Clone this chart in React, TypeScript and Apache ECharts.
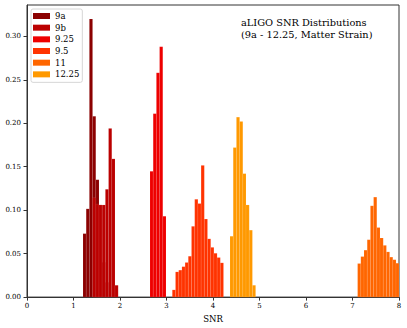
import React, { useEffect, useRef } from "react";
import * as echarts from "echarts";

const SERIES_NAMES = ["9a", "9b", "9.25", "9.5", "11", "12.25"];
const SERIES_COLORS = ["#8b0000", "#bb0000", "#ee0000", "#ff3300", "#ff6600", "#ff9900"];
const BIN_WIDTH = 0.0688;

const binStart9a = 1.204;
const values9a = [0.073, 0.1015, 0.32, 0.208, 0.135, 0.106, 0.04, 0.017];

const binStart9b = 1.4104;
const values9b = [0.1144, 0.107, 0.106, 0.106, 0.124, 0.194, 0.159, 0.0136];

const binStart925 = 2.645;
const values925 = [0.1447, 0.211, 0.258, 0.288, 0.093];

const binStart95 = 3.125;
const values95 = [0.0083, 0.029, 0.031, 0.035, 0.0398, 0.047, 0.0814, 0.1125, 0.1076, 0.1515, 0.0898, 0.067, 0.0572, 0.0504, 0.0455, 0.0394];

const binStart11 = 7.11;
const values11 = [0.0386, 0.0466, 0.054, 0.066, 0.105, 0.115, 0.08, 0.068, 0.0595, 0.052, 0.046, 0.043, 0.039];

const binStart1225 = 4.366;
const values1225 = [0.07, 0.172, 0.207, 0.202, 0.142, 0.106, 0.077, 0.0136];

const X_TICKS = [0, 1, 2, 3, 4, 5, 6, 7, 8];
const Y_TICKS = [0, 0.05, 0.1, 0.15, 0.2, 0.25, 0.3];

const TITLE = "aLIGO SNR Distributions\n(9a - 12.25, Matter Strain)";

const seriesBins: [number, number[]][] = [
  [binStart9a, values9a],
  [binStart9b, values9b],
  [binStart925, values925],
  [binStart95, values95],
  [binStart11, values11],
  [binStart1225, values1225],
];

const FONT = "DejaVu Serif";

export default function App() {
  const ref = useRef<HTMLDivElement>(null);
  useEffect(() => {
    if (!ref.current) return;
    const chart = echarts.init(ref.current, undefined, { renderer: "svg" });
    const series = seriesBins.map(([start, vals], si) => ({
      type: "custom",
      name: SERIES_NAMES[si],
      itemStyle: { color: SERIES_COLORS[si] },
      data: vals.map((v, i) => [start + i * BIN_WIDTH, start + (i + 1) * BIN_WIDTH, v]),
      encode: { x: [0, 1], y: 2 },
      renderItem: (params: any, api: any) => {
        const x0 = api.value(0);
        const x1 = api.value(1);
        const v = api.value(2);
        const p0 = api.coord([x0, v]);
        const p1 = api.coord([x1, 0]);
        const cs = params.coordSys;
        const right = Math.min(p1[0], cs.x + cs.width);
        return {
          type: "rect",
          shape: { x: p0[0], y: p0[1], width: right - p0[0], height: p1[1] - p0[1] },
          style: { fill: api.visual("color"), stroke: "rgba(255,255,255,0.2)", lineWidth: 0.4 },
        };
      },
    }));
    chart.setOption({
      animation: false,
      title: {
        text: TITLE,
        left: 241,
        top: 16,
        padding: 0,
        textStyle: { fontFamily: FONT, fontSize: 9.8, fontWeight: "normal", color: "#000", lineHeight: 12.3 },
      },
      legend: {
        orient: "vertical",
        left: 31,
        top: 9,
        padding: [2, 3, 3, 2],
        itemWidth: 17,
        itemHeight: 6,
        itemGap: 1.67,
        icon: "rect",
        borderColor: "#d6d6d6",
        borderWidth: 1,
        borderRadius: 2,
        backgroundColor: "#fff",
        data: SERIES_NAMES,
        textStyle: { fontFamily: FONT, fontSize: 8.5, color: "#000", lineHeight: 10 },
      },
      grid: {
        left: 27,
        right: 8,
        top: 5,
        bottom: 28,
        show: true,
        borderColor: "#333",
        borderWidth: 1,
        backgroundColor: "transparent",
      },
      xAxis: {
        type: "value",
        min: 0,
        max: 8,
        interval: 1,
        name: "SNR",
        nameLocation: "middle",
        nameGap: 14,
        nameTextStyle: { fontFamily: FONT, fontSize: 8.5, color: "#000" },
        splitLine: { show: false },
        axisLine: { show: true, lineStyle: { color: "#333" } },
        axisTick: { show: true, length: 3.5, lineStyle: { color: "#333" }, customValues: X_TICKS },
        axisLabel: {
          fontFamily: FONT,
          fontSize: 7,
          color: "#000",
          margin: 5,
          customValues: X_TICKS,
          formatter: (v: number) => String(v),
        },
      },
      yAxis: {
        type: "value",
        min: 0,
        max: 0.336,
        interval: 0.05,
        splitLine: { show: false },
        axisLine: { show: true, lineStyle: { color: "#333" } },
        axisTick: { show: true, length: 3.5, lineStyle: { color: "#333" }, customValues: Y_TICKS },
        axisLabel: {
          fontFamily: FONT,
          fontSize: 7,
          color: "#000",
          margin: 6,
          customValues: Y_TICKS,
          formatter: (v: number) => v.toFixed(2),
        },
      },
      series,
    });
    return () => chart.dispose();
  }, []);
  return (
    <div
      ref={ref}
      style={{ position: "absolute", left: 0, top: 0, width: 407, height: 328, background: "#fff" }}
    />
  );
}
